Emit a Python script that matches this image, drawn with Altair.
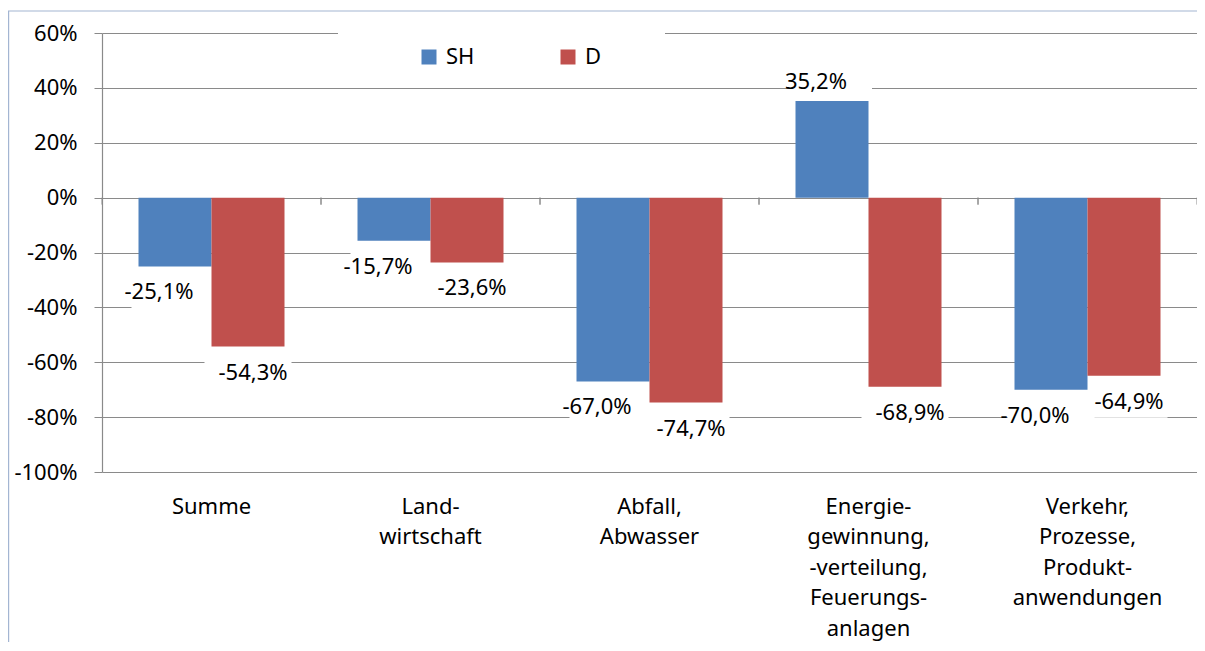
import altair as alt
import pandas as pd

# ---- data ----
categories = [
    "Summe",
    "Land-\nwirtschaft",
    "Abfall,\nAbwasser",
    "Energie-\ngewinnung,\n-verteilung,\nFeuerungs-\nanlagen",
    "Verkehr,\nProzesse,\nProdukt-\nanwendungen",
]
series_names = ["SH", "D"]
sh_values = [-25.1, -15.7, -67.0, 35.2, -70.0]
d_values = [-54.3, -23.6, -74.7, -68.9, -64.9]
y_ticks = [-1.0, -0.8, -0.6, -0.4, -0.2, 0.0, 0.2, 0.4, 0.6]
series_colors = ["#4f81bd", "#c0504d"]

rows = []
for c, v in zip(categories, sh_values):
    rows.append({"cat": c, "series": "SH", "value": v / 100})
for c, v in zip(categories, d_values):
    rows.append({"cat": c, "series": "D", "value": v / 100})
df = pd.DataFrame(rows)
cat_df = pd.DataFrame({"cat": categories})
one = pd.DataFrame({"k": [0]})

FONT = "Noto Sans"
FS = 22
GRID = "#8a8a8a"
BORDER = "#a3b5d2"
W, H = 1095, 439

x_axis = alt.Axis(
    title=None, labelAngle=0, domain=False, ticks=False, grid=False,
    labelExpr="split(datum.label, '\\n')", labelFont=FONT, labelFontSize=FS,
    labelColor="black", labelLineHeight=30.5, labelPadding=24, labelBaseline="top",
    labelLimit=400, labelOverlap=False,
)
x_enc = alt.X("cat:N", sort=categories,
              scale=alt.Scale(paddingInner=0, paddingOuter=0), axis=x_axis)
xo_enc = alt.XOffset("series:N", sort=series_names,
                     scale=alt.Scale(paddingInner=0, paddingOuter=0.5))
y_enc = alt.Y(
    "value:Q",
    scale=alt.Scale(domain=[-1.0, 0.6], nice=False),
    axis=alt.Axis(
        title=None, values=y_ticks, format=".0%", grid=True, gridColor=GRID,
        gridWidth=1, domainColor=GRID, domainWidth=1.2, tickColor=GRID,
        tickSize=8, tickWidth=1, labelFont=FONT, labelFontSize=FS,
        labelColor="black", labelPadding=17,
    ),
)
color_enc = alt.Color(
    "series:N", sort=series_names,
    scale=alt.Scale(domain=series_names, range=series_colors),
    legend=alt.Legend(
        title=None, orient="none", legendX=316, legendY=13,
        direction="horizontal", symbolType="square", symbolSize=225,
        symbolStrokeWidth=0, labelFont=FONT, labelFontSize=FS,
        labelColor="black", labelOffset=6, columnPadding=82, padding=0,
        zindex=1,
    ),
)


def label_layers(series, positive, dx):
    cond = "datum.value > 0" if positive else "datum.value < 0"
    base = alt.Chart(df).transform_filter(
        f"datum.series == '{series}' && {cond}"
    )
    if positive:
        box = base.mark_bar(color="white", width=80, yOffset=-36, y2Offset=-4, xOffset=dx)
        txt = base.mark_text(dy=-19, dx=dx, baseline="middle", font=FONT,
                             fontSize=FS, color="black")
    else:
        box = base.mark_bar(color="white", width=87, yOffset=10, y2Offset=42, xOffset=dx)
        txt = base.mark_text(dy=26, dx=dx, baseline="middle", font=FONT,
                             fontSize=FS, color="black")
    box = box.encode(x=x_enc, xOffset=xo_enc, y=y_enc, y2=alt.Y2("value"))
    txt = txt.encode(x=x_enc, xOffset=xo_enc, y=y_enc,
                     text=alt.Text("value:Q", format=".1%"))
    return box, txt


box_sh_n, txt_sh_n = label_layers("SH", False, -16)
box_d_n, txt_d_n = label_layers("D", False, 5)
box_sh_p, txt_sh_p = label_layers("SH", True, -16)

bars = alt.Chart(df).mark_bar().encode(
    x=x_enc, xOffset=xo_enc, y=y_enc, color=color_enc
)

ticks_left = alt.Chart(cat_df).mark_rule(color=GRID, y2Offset=7).encode(
    x=alt.X("cat:N", sort=categories, bandPosition=0),
    y=alt.datum(0), y2=alt.datum(0),
)
ticks_right = alt.Chart(cat_df).mark_rule(color=GRID, y2Offset=7).encode(
    x=alt.X("cat:N", sort=categories, bandPosition=1),
    y=alt.datum(0), y2=alt.datum(0),
)

legend_bg = alt.Chart(one).mark_rect(color="white").encode(
    x=alt.value(236), x2=alt.value(563), y=alt.value(-18), y2=alt.value(18)
)
border_top = alt.Chart(one).mark_rule(color=BORDER, strokeWidth=1.2).encode(
    x=alt.value(-94), x2=alt.value(W + 10), y=alt.value(-22)
)
border_left = alt.Chart(one).mark_rule(color=BORDER, strokeWidth=1.2).encode(
    x=alt.value(-93.4), y=alt.value(-22), y2=alt.value(640)
)

chart = alt.layer(
    box_sh_n, box_d_n, box_sh_p,
    bars, ticks_left, ticks_right,
    txt_sh_n, txt_d_n, txt_sh_p,
    legend_bg, border_top, border_left,
).properties(
    width=W, height=H,
    autosize=alt.AutoSizeParams(type="none"),
    padding={"left": 94, "top": 25, "right": 0, "bottom": 170},
    background="white",
).configure(
    locale={"number": {"decimal": ",", "thousands": ".", "grouping": [3],
                       "currency": ["", " €"], "minus": "-"}},
).configure_view(strokeWidth=0)

chart.save("out.html", embed_options={"renderer": "svg", "actions": False})
